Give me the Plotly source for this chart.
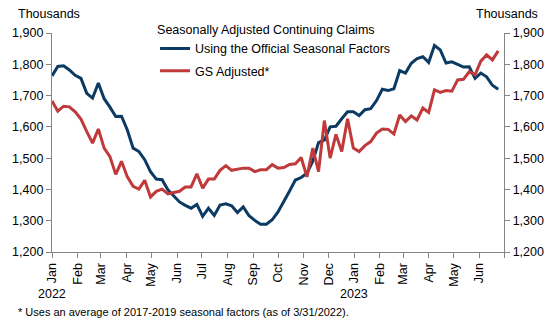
import pandas as pd
import plotly.graph_objects as go

# Weekly continuing claims (thousands), weeks ending Jan 1, 2022 onward
official = [
    1763, 1793, 1795, 1782, 1765, 1755, 1707, 1692, 1740, 1690,
    1663, 1633, 1634, 1590, 1532, 1521, 1495, 1457, 1433, 1431,
    1399, 1380, 1360, 1349, 1340, 1352, 1314, 1340, 1317, 1350,
    1354, 1348, 1326, 1344, 1316, 1301, 1289, 1289, 1303, 1328,
    1360, 1395, 1430, 1438, 1452, 1490, 1550, 1558, 1600, 1602,
    1626, 1648, 1648, 1636, 1655, 1658, 1684, 1720, 1716, 1722,
    1780, 1772, 1803, 1818, 1824, 1806, 1860, 1846, 1804, 1808,
    1800, 1791, 1792, 1755, 1772, 1760, 1733, 1720,
]
gs_adjusted = [
    1683, 1650, 1666, 1664, 1648, 1625, 1585, 1548, 1593, 1532,
    1505, 1448, 1490, 1440, 1410, 1401, 1429, 1376, 1394, 1401,
    1386, 1390, 1394, 1408, 1408, 1450, 1404, 1433, 1433, 1461,
    1476, 1461, 1465, 1468, 1468, 1457, 1463, 1463, 1479, 1468,
    1470, 1480, 1482, 1502, 1440, 1532, 1457, 1620, 1500, 1576,
    1521, 1626, 1532, 1521, 1540, 1553, 1580, 1593, 1592, 1577,
    1638, 1617, 1635, 1622, 1660, 1646, 1718, 1710, 1716, 1714,
    1750, 1752, 1776, 1766, 1810, 1830, 1814, 1843,
]
weeks = pd.date_range("2022-01-01", periods=len(official), freq="7D")

month_ticks = pd.date_range("2022-01-01", "2023-07-01", freq="MS")
month_labels = [d.strftime("%b") for d in month_ticks[:-1]] + [""]
year_labels = ["2022", "2023"]
year_dates = ["2022-01-01", "2023-01-01"]

y_range = [1200, 1900]
y_ticks = list(range(1200, 1901, 100))

FONT = "Liberation Sans, Arial, sans-serif"
AXIS_GREY = "#858585"
NAVY = "#0B3A62"
RED = "#C0393B"

fig = go.Figure()
fig.add_trace(go.Scatter(
    x=weeks, y=official, mode="lines", name="Using the Official Seasonal Factors",
    line=dict(color=NAVY, width=3), legendgroup="a",
))
fig.add_trace(go.Scatter(
    x=weeks, y=gs_adjusted, mode="lines", name="GS Adjusted*",
    line=dict(color=RED, width=3), legendgroup="b", yaxis="y2",
))

tick_labels = [f"{v:,}" for v in y_ticks]
common_y = dict(
    range=y_range, tickvals=y_ticks, ticktext=tick_labels,
    showgrid=False, zeroline=False, showline=True, linecolor=AXIS_GREY, linewidth=1.3,
    ticks="outside", ticklen=5, tickcolor=AXIS_GREY, tickwidth=1.3,
    tickfont=dict(family=FONT, size=12.5, color="black"),
)

fig.update_layout(
    width=556, height=323,
    margin=dict(l=47, r=47, t=33, b=71),
    paper_bgcolor="white", plot_bgcolor="white",
    font=dict(family=FONT, size=12.5, color="black"),
    xaxis=dict(
        type="date", range=["2022-01-01", "2023-07-01"],
        tickvals=month_ticks, ticktext=month_labels, tickangle=-90,
        showgrid=False, zeroline=False, showline=True, linecolor=AXIS_GREY, linewidth=1.3,
        ticks="outside", ticklen=5, tickcolor=AXIS_GREY, tickwidth=1.3,
        tickfont=dict(family=FONT, size=12.5, color="black"),
    ),
    yaxis=dict(**common_y),
    yaxis2=dict(**common_y, overlaying="y", side="right"),
    legend=dict(
        title=dict(text="Seasonally Adjusted Continuing Claims", font=dict(size=12.5)),
        x=0.228, y=1.07, xanchor="left", yanchor="top",
        bgcolor="rgba(0,0,0,0)", traceorder="grouped", tracegroupgap=3,
        font=dict(family=FONT, size=12.5, color="black"),
    ),
    showlegend=True,
)

# Axis unit captions
fig.add_annotation(text="Thousands", xref="paper", yref="paper", x=-0.08, y=1.087,
                   xanchor="left", yanchor="middle", showarrow=False)
fig.add_annotation(text="Thousands", xref="paper", yref="paper", x=1.08, y=1.087,
                   xanchor="right", yanchor="middle", showarrow=False)

# Year labels under January ticks
for d, label in zip(year_dates, year_labels):
    fig.add_annotation(text=label, xref="x", yref="paper", x=d, y=0, yshift=-42,
                       xanchor="center", yanchor="middle", showarrow=False)

fig.add_annotation(
    text="* Uses an average of 2017-2019 seasonal factors (as of 3/31/2022).",
    xref="paper", yref="paper", x=-0.08, y=0, yshift=-60,
    xanchor="left", yanchor="middle", showarrow=False, font=dict(size=11),
)

fig.write_html("out.html")
